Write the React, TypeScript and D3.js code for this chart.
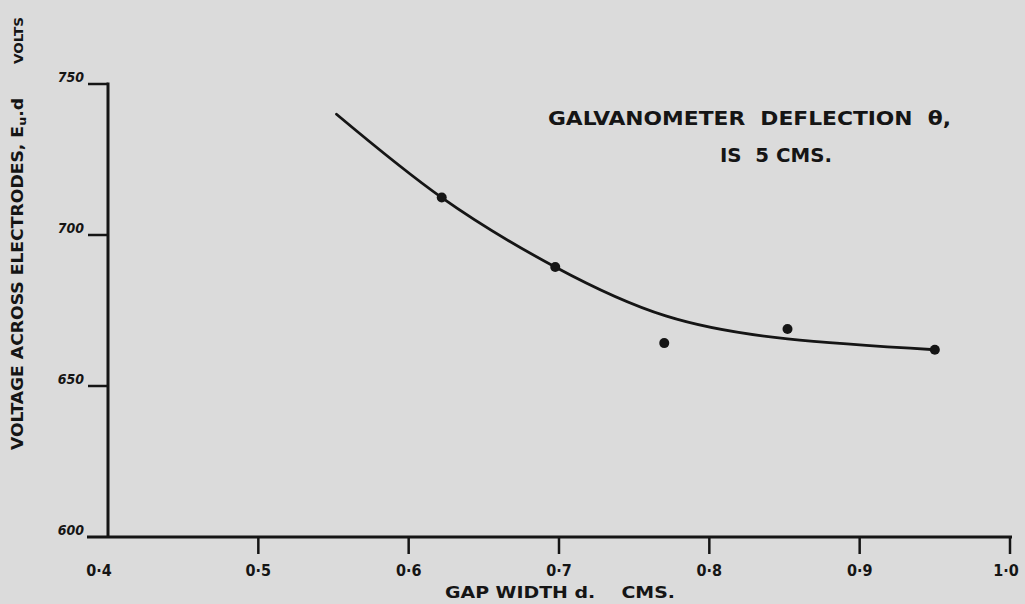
import React from "react";
import * as d3 from "d3";

// ---- data ----
const xTicks = [0.4, 0.5, 0.6, 0.7, 0.8, 0.9, 1.0];
const xTickLabels = ["0·4", "0·5", "0·6", "0·7", "0·8", "0·9", "1·0"];
const yTicks = [600, 650, 700, 750];
const yTickLabels = ["600", "650", "700", "750"];

const pointGap = [0.622, 0.6975, 0.77, 0.852, 0.95];
const pointVolt = [712.4, 689.4, 664.2, 668.9, 662];

const curveGap = [0.552, 0.622, 0.6975, 0.771, 0.852, 0.95];
const curveVolt = [740, 712.4, 689.4, 673.2, 665.6, 662];

const W = 1025;
const H = 604;
const INK = "#151515";
const BG = "#dbdbdb";
const FONT = "'DejaVu Sans Condensed', 'DejaVu Sans', sans-serif";

export default function App() {
  React.useEffect(() => {
    document.body.style.margin = "0";
    document.body.style.background = BG;
  }, []);

  const x = d3.scaleLinear().domain([0.4, 1.0]).range([108, 1010]);
  const y = d3.scaleLinear().domain([600, 750]).range([537, 84]);

  const line = d3
    .line<number>()
    .x((_, i) => x(curveGap[i]))
    .y((d) => y(d))
    .curve(d3.curveNatural);

  const labelShift = (t: number) => (t === 0.4 ? -9 : t === 1.0 ? -4 : 0);

  return (
    <svg
      width={W}
      height={H}
      style={{ position: "absolute", left: 0, top: 0, display: "block" }}
    >
      <rect x={0} y={0} width={W} height={H} fill={BG} />

      {/* y axis */}
      <line x1={x(0.4)} x2={x(0.4)} y1={y(750) - 1.5} y2={y(600)} stroke={INK} strokeWidth={3} />
      {/* x axis (extends left as the 600 tick) */}
      <line x1={x(0.4) - 21} x2={x(1.0) + 2} y1={y(600)} y2={y(600)} stroke={INK} strokeWidth={3} />

      {yTicks.filter((t) => t !== 600).map((t) => (
        <line key={"yt" + t} x1={x(0.4) - 20} x2={x(0.4)} y1={y(t)} y2={y(t)} stroke={INK} strokeWidth={2.5} />
      ))}
      {yTicks.map((t, i) => (
        <text
          key={"yl" + t}
          x={x(0.4) - 24}
          y={y(t) - 2}
          textAnchor="end"
          fontFamily={FONT}
          fontWeight="bold"
          fontStyle="italic"
          fontSize={14}
          fill={INK}
        >
          {yTickLabels[i]}
        </text>
      ))}

      {xTicks.filter((t) => t !== 0.4).map((t) => (
        <line key={"xt" + t} x1={x(t)} x2={x(t)} y1={y(600)} y2={y(600) + 17} stroke={INK} strokeWidth={2.5} />
      ))}
      {xTicks.map((t, i) => (
        <text
          key={"xl" + t}
          x={x(t) + labelShift(t)}
          y={576}
          textAnchor="middle"
          fontFamily={FONT}
          fontWeight="bold"
          fontSize={16}
          fill={INK}
        >
          {xTickLabels[i]}
        </text>
      ))}

      {/* x title */}
      <text
        x={445}
        y={598}
        fontFamily={FONT}
        fontWeight="bold"
        fontSize={15}
        fill={INK}
        textLength={230}
        lengthAdjust="spacingAndGlyphs"
        style={{ whiteSpace: "pre" }}
      >
        {"GAP WIDTH d.    CMS."}
      </text>

      {/* y title */}
      <g transform="translate(23,0) rotate(-90)">
        <text
          x={-450}
          y={0}
          fontFamily={FONT}
          fontWeight="bold"
          fontSize={15}
          fill={INK}
          textLength={352}
          lengthAdjust="spacingAndGlyphs"
        >
          VOLTAGE ACROSS ELECTRODES, E<tspan fontSize={11} dy={3}>u</tspan><tspan dy={-3}>.d</tspan>
        </text>
        <text
          x={-64}
          y={0}
          fontFamily={FONT}
          fontWeight="bold"
          fontSize={12}
          fill={INK}
          textLength={47}
          lengthAdjust="spacingAndGlyphs"
        >
          VOLTS
        </text>
      </g>

      {/* annotation */}
      <text
        x={548}
        y={125}
        fontFamily={FONT}
        fontWeight="bold"
        fontSize={20}
        fill={INK}
        textLength={403}
        lengthAdjust="spacingAndGlyphs"
        style={{ whiteSpace: "pre" }}
      >
        {"GALVANOMETER  DEFLECTION  θ,"}
      </text>
      <text
        x={720}
        y={162}
        fontFamily={FONT}
        fontWeight="bold"
        fontSize={20}
        fill={INK}
        textLength={112}
        lengthAdjust="spacingAndGlyphs"
        style={{ whiteSpace: "pre" }}
      >
        {"IS  5 CMS."}
      </text>

      {/* fitted curve */}
      <path d={line(curveVolt) || ""} fill="none" stroke={INK} strokeWidth={2.8} strokeLinecap="round" />

      {/* measured points */}
      {pointGap.map((g, i) => (
        <circle key={"p" + i} cx={x(g)} cy={y(pointVolt[i])} r={5} fill={INK} />
      ))}
    </svg>
  );
}
